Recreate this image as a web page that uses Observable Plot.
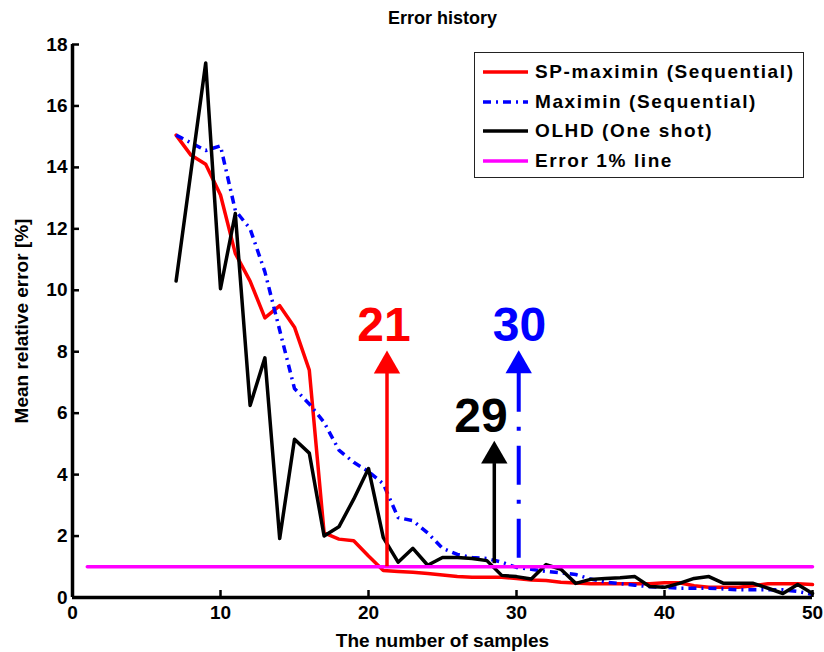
<!DOCTYPE html>
<html>
<head>
<meta charset="utf-8">
<script src="https://cdn.jsdelivr.net/npm/d3@7"></script>
<script src="https://cdn.jsdelivr.net/npm/@observablehq/plot@0.6"></script>
<style>
  html, body { margin: 0; padding: 0; background: #fff; }
  #wrap { position: relative; width: 824px; height: 652px; }
  #legend {
    position: absolute; left: 474px; top: 52px; width: 330px; height: 126px;
    box-sizing: border-box; border: 1.5px solid #222; background: #fff;
    font: bold 19px "Liberation Sans", Arial, sans-serif; letter-spacing: 1.6px; color: #000;
  }
  .entry { position: absolute; left: 0; height: 30px; display: flex; align-items: center; white-space: nowrap; }
  .entry svg { margin-left: 8px; margin-right: 7px; }
</style>
</head>
<body>
<div id="wrap"><div id="chart"></div><div id="legend"></div></div>
<script>
// ---- data ----
const samples = [7,8,9,10,11,12,13,14,15,16,17,18,19,20,21,22,23,24,25,26,27,28,29,30,31,32,33,34,35,36,37,38,39,40,41,42,43,44,45,46,47,48,49,50];
const spMaximin = [15.05,14.4,14.1,13.1,11.2,10.3,9.1,9.5,8.8,7.4,2.1,1.9,1.85,1.35,0.88,0.85,0.82,0.78,0.73,0.68,0.66,0.66,0.66,0.62,0.57,0.55,0.5,0.47,0.45,0.45,0.45,0.45,0.45,0.48,0.48,0.38,0.33,0.33,0.33,0.38,0.45,0.45,0.45,0.42];
const maximin = [15.05,14.8,14.55,14.7,12.6,12.0,10.6,8.7,6.8,6.3,5.7,4.8,4.4,4.1,3.7,2.6,2.5,2.1,1.6,1.4,1.3,1.27,1.15,0.98,0.92,0.85,0.8,0.75,0.6,0.5,0.45,0.4,0.35,0.33,0.3,0.3,0.3,0.28,0.25,0.25,0.25,0.25,0.2,0.1];
const olhd = [10.3,13.85,17.4,10.05,12.5,6.25,7.8,1.92,5.15,4.7,2.0,2.3,3.2,4.2,1.95,1.15,1.6,1.05,1.3,1.3,1.27,1.2,0.72,0.68,0.6,1.07,0.92,0.46,0.59,0.62,0.64,0.68,0.36,0.33,0.46,0.62,0.68,0.46,0.46,0.46,0.3,0.13,0.42,0.13];
const errorLineX = [1, 50];
const errorLineY = [1, 1];

const seriesNames = ["SP-maximin (Sequential)", "Maximin (Sequential)", "OLHD (One shot)", "Error 1%  line"];
const seriesColors = ["#ff0000", "#0000ff", "#000000", "#ff00ff"];
const seriesDash = [null, "8,5,2,5", null, null];

const arrowLabels = ["21", "29", "30"];
const arrowX = [21.25, 28.5, 30.15];
const arrowBase = [1, 1.1, 1];
const arrowStemTop = [7.3, 4.36, 7.3];
const arrowHeadY = [7.54, 4.61, 7.55];
const arrowLabelX = [21.05, 27.6, 30.2];
const arrowLabelY = [8.85, 5.9, 8.85];
const arrowColors = ["#ff0000", "#000000", "#0000ff"];
const arrowDash = [null, null, "39,15,4,15"];

const xTicks = [0, 10, 20, 30, 40, 50];
const yTicks = [0, 2, 4, 6, 8, 10, 12, 14, 16, 18];

const titleText = "Error history";
const xLabel = "The number of samples";
const yLabel = "Mean relative error [%]";

// ---- build ----
const toPts = ys => samples.map((x, i) => ({x, y: ys[i]}));
const errPts = errorLineX.map((x, i) => ({x, y: errorLineY[i]}));
const arrows = arrowLabels.map((label, i) => ({
  label, x: arrowX[i], base: arrowBase[i], top: arrowStemTop[i], head: arrowHeadY[i],
  lx: arrowLabelX[i], ly: arrowLabelY[i], color: arrowColors[i], dash: arrowDash[i]
}));

const font = "Liberation Sans, Arial, Helvetica, sans-serif";
const marks = [
  Plot.line(toPts(spMaximin), {x: "x", y: "y", stroke: seriesColors[0], strokeWidth: 3.5}),
  Plot.line(toPts(maximin), {x: "x", y: "y", stroke: seriesColors[1], strokeWidth: 3.5, strokeDasharray: seriesDash[1], strokeLinecap: "butt"}),
  Plot.line(toPts(olhd), {x: "x", y: "y", stroke: seriesColors[2], strokeWidth: 3.5}),
  Plot.line(errPts, {x: "x", y: "y", stroke: seriesColors[3], strokeWidth: 3.5}),
];
for (const a of arrows) {
  marks.push(Plot.ruleX([a], {x: "x", y1: "top", y2: "base", stroke: a.color, strokeWidth: a.dash ? 4 : 3.5, strokeDasharray: a.dash ?? undefined}));
  marks.push(Plot.dot([a], {x: "x", y: "head", symbol: "triangle", r: 9.8, fill: a.color, stroke: "none"}));
  marks.push(Plot.text([a], {x: "lx", y: "ly", text: "label", fill: a.color, fontSize: 48, fontWeight: "bold",
    ariaLabel: "arrow-label", textAnchor: "middle", lineAnchor: "middle"}));
}
marks.push(
  Plot.axisX(xTicks, {tickSize: -7, tickPadding: 15, label: null, strokeWidth: 2.5, fontSize: 19, fontWeight: "bold"}),
  Plot.axisY(yTicks, {tickSize: -7, tickPadding: 12, label: null, strokeWidth: 2.5, fontSize: 19, fontWeight: "bold"}),
  Plot.ruleX([0], {strokeWidth: 3.5}),
  Plot.ruleY([0], {strokeWidth: 3.5}),
  Plot.text([titleText], {frameAnchor: "top", dy: -26, lineAnchor: "middle", textAnchor: "middle", fontSize: 18, fontWeight: "bold", ariaLabel: "title-text"}),
  Plot.text([xLabel], {frameAnchor: "bottom", dy: 43, lineAnchor: "middle", textAnchor: "middle", fontSize: 19, fontWeight: "bold", ariaLabel: "x-title"}),
  Plot.text([yLabel], {frameAnchor: "left", dx: -51, rotate: -90, lineAnchor: "middle", textAnchor: "middle", fontSize: 19, fontWeight: "bold", ariaLabel: "y-title"})
);

const chart = Plot.plot({
  width: 824, height: 652,
  marginLeft: 72, marginRight: 12, marginTop: 44, marginBottom: 55,
  style: {fontFamily: font, fontSize: "19px", color: "#000", background: "#fff", overflow: "visible"},
  x: {domain: [0, 50]},
  y: {domain: [0, 18]},
  marks
});
document.getElementById("chart").appendChild(chart);

// styling: condensed arrow labels, wider-spaced titles
const svg = d3.select(chart);
svg.selectAll('g[aria-label="arrow-label"] text').attr("textLength", 41).attr("lengthAdjust", "spacingAndGlyphs");
svg.selectAll('g[aria-label="x-title"] text').attr("textLength", 250);
svg.selectAll('g[aria-label="y-title"] text').attr("textLength", 248);
svg.selectAll('g[aria-label="title-text"] text').attr("textLength", 128);

// legend
const legend = d3.select("#legend");
seriesNames.forEach((name, i) => {
  const e = legend.append("div").attr("class", "entry").style("top", (4 + i * 29.5) + "px");
  const s = e.append("svg").attr("width", 45).attr("height", 10);
  s.append("line").attr("x1", 0).attr("x2", 45).attr("y1", 5).attr("y2", 5)
    .attr("stroke", seriesColors[i]).attr("stroke-width", 3.5)
    .attr("stroke-dasharray", seriesDash[i]);
  e.append("span").text(name);
});
</script>
</body>
</html>
